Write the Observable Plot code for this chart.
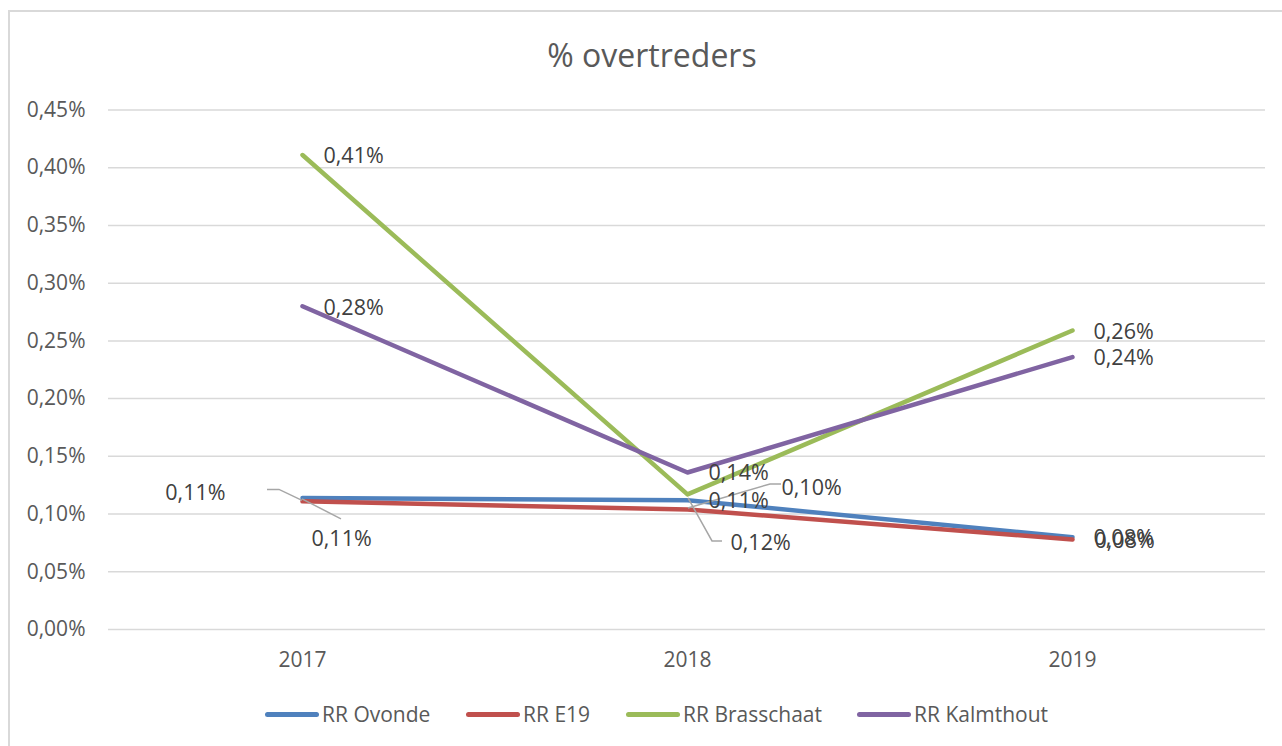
<!DOCTYPE html>
<html>
<head>
<meta charset="utf-8">
<script src="https://cdn.jsdelivr.net/npm/d3@7"></script>
<script src="https://cdn.jsdelivr.net/npm/@observablehq/plot@0.6"></script>
<style>
  body { margin: 0; background: #fff; font-family: "Open Sans", sans-serif; }
  #wrap { position: relative; width: 1282px; height: 746px; overflow: hidden; background: #fff; }
  #frame { position: absolute; left: 8px; top: 10px; width: 1400px; height: 900px;
           border-left: 2px solid #d9d9d9; border-top: 2px solid #d9d9d9; }
  #title { position: absolute; left: 0; width: 1304px; top: 34px; line-height: 42px;
           text-align: center; font-size: 32px; color: #595959; }
  #chart { position: absolute; left: 0; top: 0; }
  #legend { position: absolute; left: 0; top: 700px; height: 28px; width: 1282px;
            font-size: 21px; color: #595959; white-space: nowrap; }
  .item { position: absolute; top: 0; height: 28px; display: flex; align-items: center; }
  .sw { width: 54px; height: 5px; border-radius: 3px; margin-right: 3px; }
</style>
</head>
<body>
<div id="wrap">
  <div id="frame"></div>
  <div id="chart"></div>
  <div id="title">% overtreders</div>
  <div id="legend"></div>
</div>
<script>
// ---- data ----
const years = ["2017", "2018", "2019"];
const seriesNames = ["RR Ovonde", "RR E19", "RR Brasschaat", "RR Kalmthout"];
const ovonde = [0.114, 0.112, 0.080];
const e19 = [0.111, 0.104, 0.078];
const brasschaat = [0.411, 0.117, 0.259];
const kalmthout = [0.280, 0.136, 0.236];
const yTicks = [0, 0.05, 0.10, 0.15, 0.20, 0.25, 0.30, 0.35, 0.40, 0.45];
const colors = ["#4F81BD", "#C0504D", "#9BBB59", "#8064A2"];

// legend item left edges (layout)
const legendLeft = [265, 466, 626, 857];

// label layout (pixel offsets from the data point)
const labelLayout = [
  {s: "RR Ovonde", y: "2017", dx: -77, dy: -5, anchor: "end"},
  {s: "RR E19", y: "2017", dx: 9, dy: 38, anchor: "start"},
  {s: "RR Brasschaat", y: "2017", dx: 21, dy: 1, anchor: "start"},
  {s: "RR Kalmthout", y: "2017", dx: 21, dy: 2, anchor: "start"},
  {s: "RR Ovonde", y: "2018", dx: 21, dy: 1, anchor: "start"},
  {s: "RR E19", y: "2018", dx: 94, dy: -21, anchor: "start"},
  {s: "RR Brasschaat", y: "2018", dx: 43, dy: 49, anchor: "start"},
  {s: "RR Kalmthout", y: "2018", dx: 21, dy: 1, anchor: "start"},
  {s: "RR Ovonde", y: "2019", dx: 21, dy: 1, anchor: "start"},
  {s: "RR E19", y: "2019", dx: 22, dy: 2, anchor: "start"},
  {s: "RR Brasschaat", y: "2019", dx: 21, dy: 2, anchor: "start"},
  {s: "RR Kalmthout", y: "2019", dx: 21, dy: 1, anchor: "start"}
];
const leaderLayout = [
  {s: "RR Ovonde", y: "2017", pts: [[-35, -8], [-23, -8], [0, 3]]},
  {s: "RR E19", y: "2017", pts: [[0, -2], [39, 18]]},
  {s: "RR E19", y: "2018", pts: [[1, -1], [83, -25], [94, -25]]},
  {s: "RR Brasschaat", y: "2018", pts: [[1, 4], [25, 47], [35, 47]]}
];

const valuesBySeries = {"RR Ovonde": ovonde, "RR E19": e19, "RR Brasschaat": brasschaat, "RR Kalmthout": kalmthout};
const rows = seriesNames.flatMap(s => years.map((yr, i) => ({series: s, year: yr, value: valuesBySeries[s][i]})));
const valueOf = (s, yr) => valuesBySeries[s][years.indexOf(yr)];
const fmt = v => v.toFixed(2).replace(".", ",") + "%";

const labelMarks = labelLayout.map(l => Plot.text([{year: l.y, value: valueOf(l.s, l.y)}], {
  x: "year", y: "value", text: d => fmt(d.value), dx: l.dx, dy: l.dy,
  textAnchor: l.anchor, fontSize: 21.5, fill: "#404040"
}));

const leaderMark = (index, scales) => {
  const g = d3.create("svg:g");
  for (const L of leaderLayout) {
    const px = scales.x(L.y), py = scales.y(valueOf(L.s, L.y));
    g.append("path")
      .attr("d", d3.line()(L.pts.map(([a, b]) => [px + a, py + b])))
      .attr("fill", "none").attr("stroke", "#a6a6a6").attr("stroke-width", 1.5);
  }
  return g.node();
};

const chart = Plot.plot({
  width: 1282, height: 700,
  marginTop: 109.5, marginBottom: 71, marginLeft: 108, marginRight: 17,
  x: {type: "point", domain: years, padding: 0.5, label: null},
  y: {domain: [0, 0.45], label: null},
  color: {domain: seriesNames, range: colors},
  style: {fontFamily: "Open Sans", fontSize: "21px", color: "#595959", background: "transparent", overflow: "visible"},
  marks: [
    Plot.ruleY(yTicks, {stroke: "#d9d9d9", strokeWidth: 1.5}),
    Plot.axisY(yTicks, {tickSize: 0, tickPadding: 23, tickFormat: fmt, fontSize: 21}),
    Plot.axisX({tickSize: 0, tickPadding: 23, fontSize: 21}),
    Plot.line(rows, {x: "year", y: "value", z: "series", stroke: "series", strokeWidth: 4.5,
                     strokeLinecap: "round", strokeLinejoin: "round"}),
    leaderMark,
    ...labelMarks
  ]
});
document.getElementById("chart").appendChild(chart);

const legend = document.getElementById("legend");
seriesNames.forEach((s, i) => {
  const it = document.createElement("div");
  it.className = "item";
  it.style.left = legendLeft[i] + "px";
  const sw = document.createElement("div");
  sw.className = "sw";
  sw.style.background = colors[i];
  const tx = document.createElement("span");
  tx.textContent = s;
  it.appendChild(sw); it.appendChild(tx);
  legend.appendChild(it);
});
</script>
</body>
</html>
